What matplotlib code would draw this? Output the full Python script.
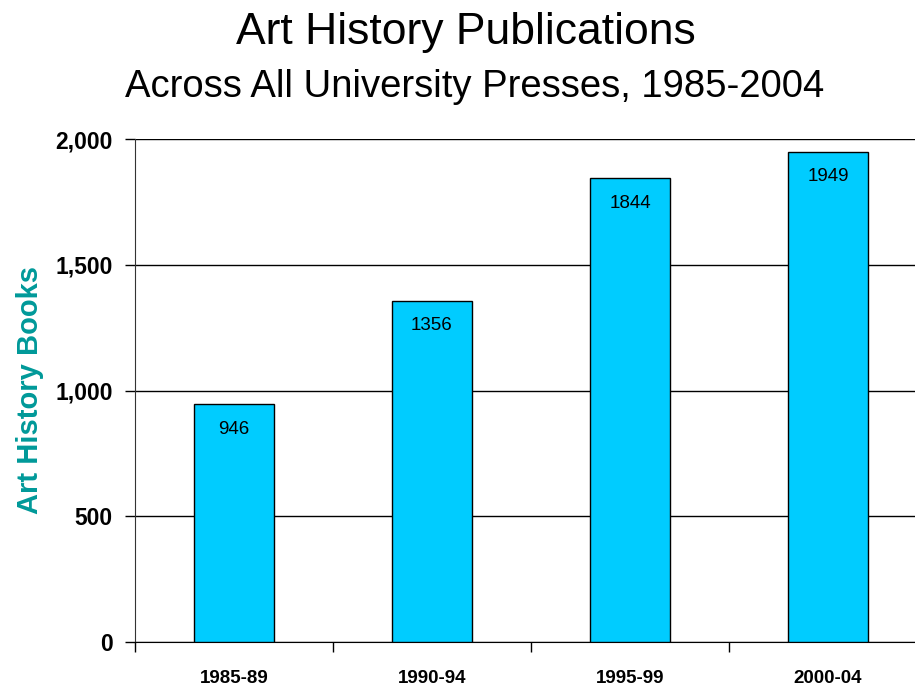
import numpy as np
import matplotlib.pyplot as plt
import matplotlib.ticker as ticker

periods = ["1985-89", "1990-94", "1995-99", "2000-04"]
books = [946, 1356, 1844, 1949]

plt.rcParams['font.family'] = ['Liberation Sans', 'DejaVu Sans']

fig = plt.figure(figsize=(9.15, 6.85), dpi=100)
ax = fig.add_axes([135 / 915, 43 / 685, 792 / 915, 503 / 685])

x = np.arange(len(periods))
bars = ax.bar(x, books, width=0.4, color='#00CCFF', edgecolor='black', linewidth=1, zorder=3)

for xi, v in zip(x, books):
    ax.annotate(str(v), (xi, v), xytext=(0, -18), textcoords='offset points',
                ha='center', va='center', fontsize=13.5, zorder=4)

ax.set_xlim(-0.5, len(periods) - 0.5)
ax.set_ylim(0, 2000)
ax.yaxis.set_major_locator(ticker.MultipleLocator(500))
ax.yaxis.set_major_formatter(ticker.FuncFormatter(lambda v, p: f"{int(v):,}"))
ax.grid(axis='y', color='black', linewidth=1, zorder=0)

# tick marks sit between the categories, labels at the centres
ax.xaxis.set_major_locator(ticker.FixedLocator(np.arange(-0.5, len(periods), 1.0)))
ax.xaxis.set_major_formatter(ticker.NullFormatter())
ax.xaxis.set_minor_locator(ticker.FixedLocator(x))
ax.xaxis.set_minor_formatter(ticker.FixedFormatter(periods))
ax.tick_params(axis='x', which='major', direction='out', length=7, width=1)
ax.tick_params(axis='x', which='minor', length=0, pad=20, labelsize=13.5)
for lab in ax.get_xticklabels(minor=True):
    lab.set_fontweight('bold')

ax.tick_params(axis='y', direction='out', length=7, width=1, labelsize=16.5, pad=9)
for lab in ax.get_yticklabels():
    lab.set_fontweight('bold')

for s in ['top', 'right']:
    ax.spines[s].set_visible(False)
ax.spines['left'].set_color('#333333')

ax.set_ylabel("Art History Books", fontsize=21, fontweight='bold', color='#009999', labelpad=8)

fig.text(0.509, 0.952, "Art History Publications", ha='center', va='center', fontsize=32)
fig.text(0.519, 0.873, "Across All University Presses, 1985-2004", ha='center', va='center', fontsize=27.5)

fig.savefig("out.png", dpi=100)
